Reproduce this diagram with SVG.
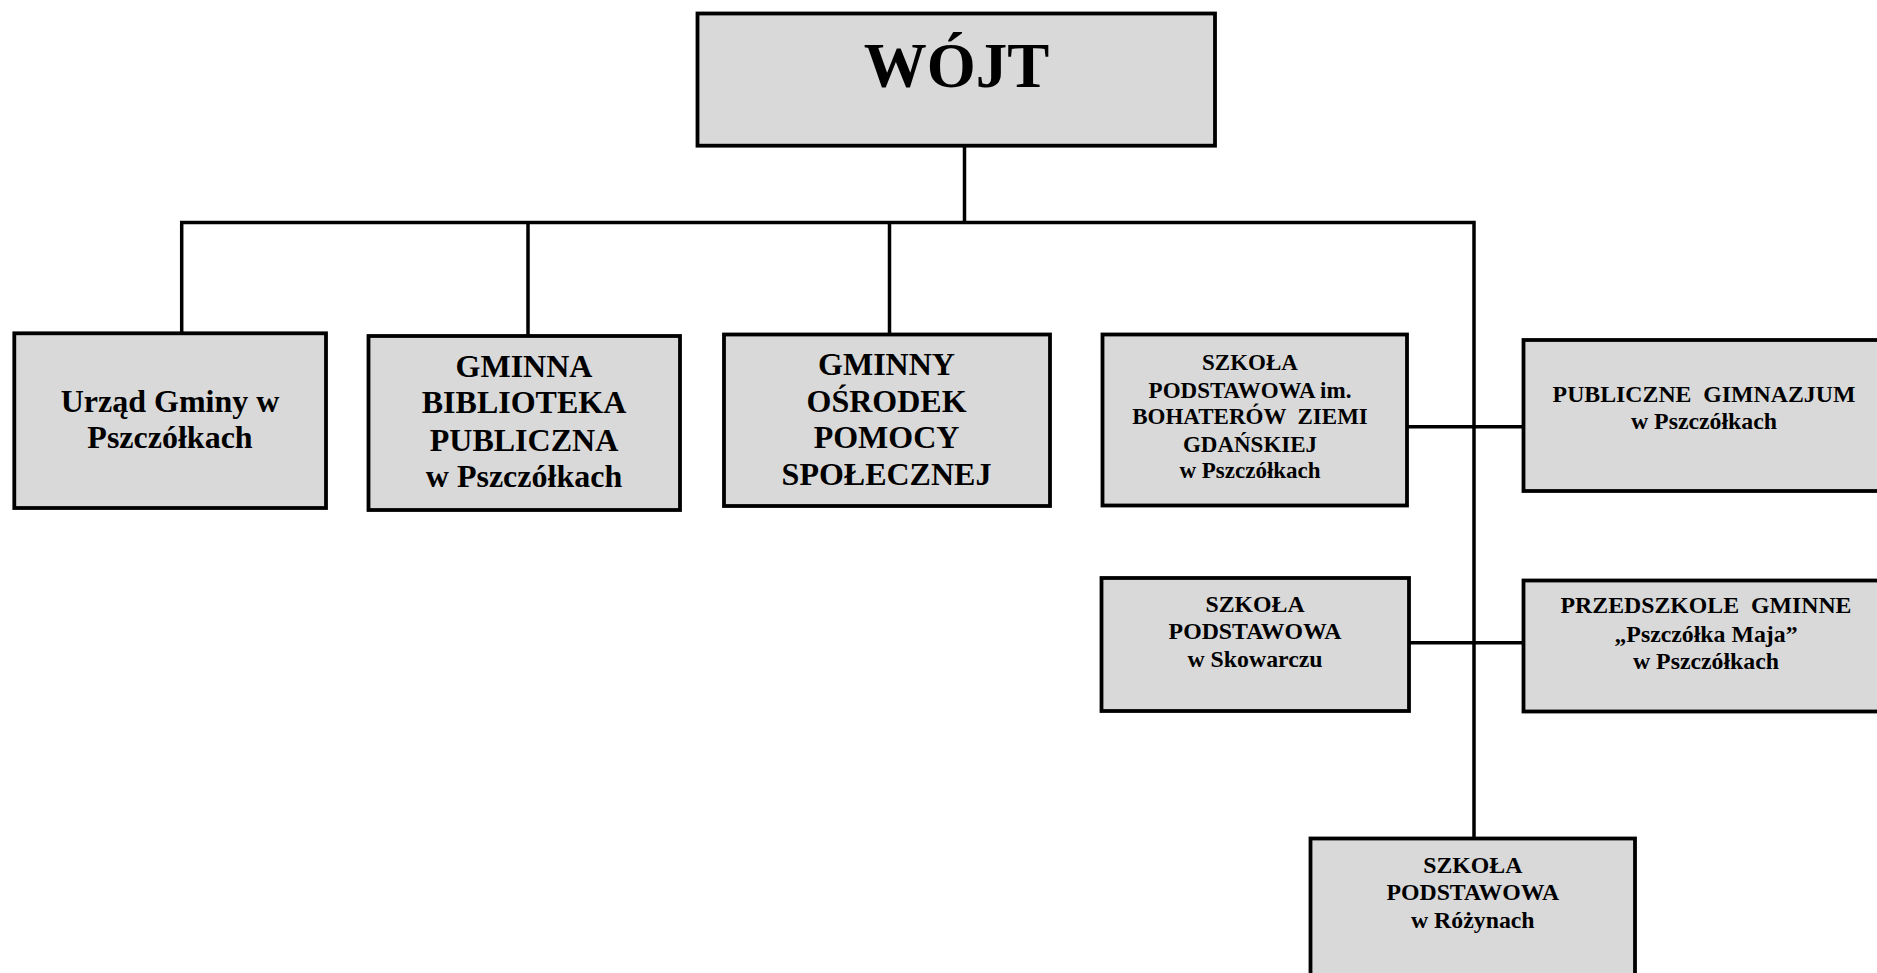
<svg xmlns="http://www.w3.org/2000/svg" width="1877" height="973" viewBox="0 0 1877 973">
<style>
.box{fill:#d9d9d9;stroke:#000;stroke-width:3.8}
.ln{stroke:#000;stroke-width:3.5;fill:none}
text{font-family:"Liberation Serif","Times New Roman",serif;font-weight:bold;fill:#000;text-anchor:middle;white-space:pre}
.f32{font-size:32px}
.f23{font-size:23px}
.f24{font-size:23.8px}
</style>
<rect width="1877" height="973" fill="#fff"/>
<g id="connectors">
<line class="ln" x1="964.5" y1="146" x2="964.5" y2="222.6"/>
<polyline class="ln" points="181.7,333 181.7,222.6 1474,222.6 1474,838"/>
<line class="ln" x1="528" y1="222.6" x2="528" y2="335"/>
<line class="ln" x1="889.5" y1="222.6" x2="889.5" y2="333"/>
<line class="ln" x1="1407" y1="426.7" x2="1522" y2="426.7"/>
<line class="ln" x1="1409" y1="642.7" x2="1522" y2="642.7"/>
</g>
<g id="wojt">
<rect class="box" x="697.5" y="13.5" width="517.5" height="132.2"/>
<text x="956.5" y="87.3" style="font-size:63px">WÓJT</text>
</g>
<g id="urzad">
<rect class="box" x="14.3" y="333.3" width="311.7" height="174.7"/>
<text class="f32" x="170" y="411.7">Urząd Gminy w</text>
<text class="f32" x="170" y="448.3">Pszczółkach</text>
</g>
<g id="biblioteka">
<rect class="box" x="368.5" y="336" width="311.5" height="174"/>
<text class="f32" x="524" y="376.7">GMINNA</text>
<text class="f32" x="524" y="413.3">BIBLIOTEKA</text>
<text class="f32" x="524" y="450.5">PUBLICZNA</text>
<text class="f32" x="524" y="487.3">w Pszczółkach</text>
</g>
<g id="gops">
<rect class="box" x="724" y="334.5" width="326" height="171.5"/>
<text class="f32" x="886.5" y="375">GMINNY</text>
<text class="f32" x="886.5" y="411.7">OŚRODEK</text>
<text class="f32" x="886.5" y="448.3">POMOCY</text>
<text class="f32" x="886.5" y="485">SPOŁECZNEJ</text>
</g>
<g id="sp-pszczolki">
<rect class="box" x="1102.5" y="334.5" width="304.5" height="171"/>
<text class="f23" x="1250" y="370">SZKOŁA</text>
<text class="f23" x="1250" y="397.5">PODSTAWOWA im.</text>
<text class="f23" x="1250" y="424.2">BOHATERÓW  ZIEMI</text>
<text class="f23" x="1250" y="451.5">GDAŃSKIEJ</text>
<text class="f23" x="1250" y="478.3">w Pszczółkach</text>
</g>
<g id="gimnazjum">
<rect class="box" x="1523.5" y="340" width="365" height="151"/>
<text class="f24" x="1704" y="401.7">PUBLICZNE  GIMNAZJUM</text>
<text class="f24" x="1704" y="429.3">w Pszczółkach</text>
</g>
<g id="sp-skowarcz">
<rect class="box" x="1101.5" y="578" width="307.5" height="133"/>
<text class="f24" x="1255" y="611.7">SZKOŁA</text>
<text class="f24" x="1255" y="639.3">PODSTAWOWA</text>
<text class="f24" x="1255" y="667.3">w Skowarczu</text>
</g>
<g id="przedszkole">
<rect class="box" x="1523.5" y="580.5" width="365" height="131"/>
<text class="f24" x="1706" y="613.3">PRZEDSZKOLE  GMINNE</text>
<text class="f24" x="1706" y="641.7">„Pszczółka Maja”</text>
<text class="f24" x="1706" y="669.3">w Pszczółkach</text>
</g>
<g id="sp-rozyny">
<rect class="box" x="1310.5" y="838.5" width="324.5" height="160"/>
<text class="f24" x="1472.8" y="873.3">SZKOŁA</text>
<text class="f24" x="1472.8" y="900">PODSTAWOWA</text>
<text class="f24" x="1472.8" y="928.3">w Różynach</text>
</g>
</svg>
